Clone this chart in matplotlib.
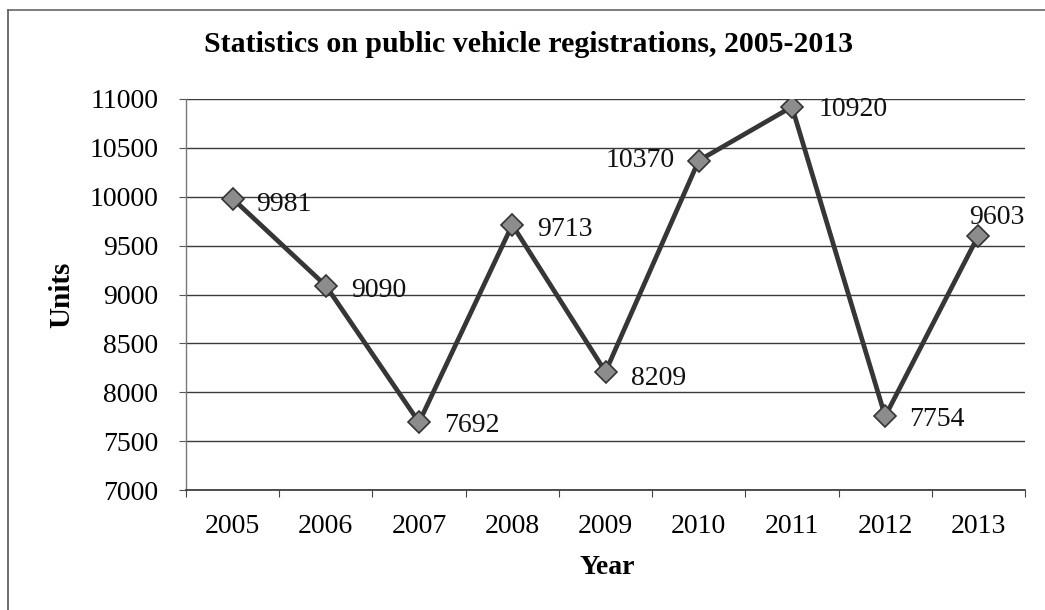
import matplotlib.pyplot as plt
from matplotlib.lines import Line2D

years = ["2005", "2006", "2007", "2008", "2009", "2010", "2011", "2012", "2013"]
units = [9981, 9090, 7692, 9713, 8209, 10370, 10920, 7754, 9603]
y_ticks = [7000, 7500, 8000, 8500, 9000, 9500, 10000, 10500, 11000]

# label offsets in points (dx, dy) and alignment per point
label_pos = [
    (17, -2, "left"), (18, -1, "left"), (18, 0, "left"), (18, -1, "left"),
    (18, -3, "left"), (-17, 2, "right"), (19, 0, "left"), (17, 0, "left"),
    (13, 15, "center"),
]

plt.rcParams['font.family'] = ['Liberation Serif', 'DejaVu Serif']

fig = plt.figure(figsize=(10.45, 6.1), dpi=100)
ax = fig.add_axes([186 / 1045, 1 - 490 / 610, (1025 - 186) / 1045, (490 - 99) / 610])

xs = [i + 0.5 for i in range(len(years))]
ax.plot(xs, units, color='#363636', lw=3.4, marker='D', ms=11,
        mfc='#8c8c8c', mec='#333333', mew=1.2, zorder=3)

for x, v, (dx, dy, ha) in zip(xs, units, label_pos):
    ax.annotate(str(v), (x, v), xytext=(dx, dy), textcoords='offset points',
                ha=ha, va='center_baseline', fontsize=20, color='#111111')

ax.set_xlim(0, len(years))
ax.set_ylim(7000, 11000)
ax.set_yticks(y_ticks)
ax.set_yticklabels([str(t) for t in y_ticks])

# category boundaries get the tick marks, names sit between them
ax.set_xticks(range(len(years) + 1))
ax.set_xticklabels([])
ax.set_xticks(xs, minor=True)
ax.set_xticklabels(years, minor=True)
ax.tick_params(axis='x', which='major', direction='out', length=5, color='#444444')
ax.tick_params(axis='x', which='minor', length=0, pad=17, labelsize=20)
ax.tick_params(axis='y', direction='out', length=5, pad=15, labelsize=20, color='#555555')

ax.grid(True, axis='y', color='#3a3a3a', lw=1.0)
ax.set_axisbelow(True)
for s in ['top', 'right']:
    ax.spines[s].set_visible(False)
ax.spines['left'].set_color('#777777')
ax.spines['left'].set_linewidth(1.0)
ax.spines['bottom'].set_color('#333333')
ax.spines['bottom'].set_linewidth(1.2)

fig.text(529 / 1045, 1 - 45 / 610, "Statistics on public vehicle registrations, 2005-2013",
         ha='center', va='center', fontsize=21.5, fontweight='bold')
fig.text(62 / 1045, 1 - 295 / 610, "Units", rotation=90, ha='center', va='center',
         fontsize=21, fontweight='bold')
fig.text(607 / 1045, 1 - 567 / 610, "Year", ha='center', va='center',
         fontsize=20, fontweight='bold')

# chart frame edges
fig.add_artist(Line2D([8 / 1045, 8 / 1045], [0, 1 - 10 / 610], color='#555555', lw=1.2))
fig.add_artist(Line2D([8 / 1045, 1], [1 - 10 / 610, 1 - 10 / 610], color='#666666', lw=1.2))

fig.savefig('out.png', dpi=100)
